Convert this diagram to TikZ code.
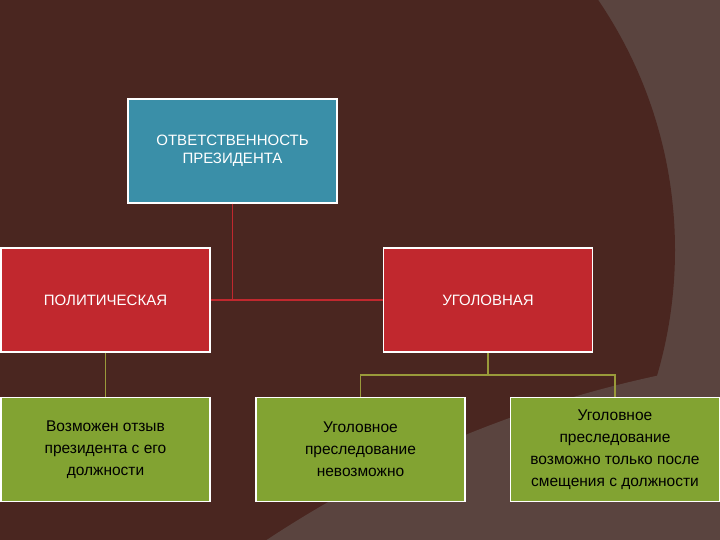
\documentclass[tikz,border=0pt]{standalone}
\usepackage{fontspec}
\setmainfont{Liberation Sans}
\definecolor{bgdark}{HTML}{4A2620}
\definecolor{bglight}{HTML}{5A443F}
\definecolor{bluebox}{HTML}{3A8FA8}
\definecolor{redbox}{HTML}{C1282E}
\definecolor{greenbox}{HTML}{82A332}
\definecolor{redline}{HTML}{C1282E}
\definecolor{oliveline}{HTML}{9A9A3A}
\begin{document}
\begin{tikzpicture}[x=1pt,y=-1pt,
  box/.style={draw=white,line width=1.5pt,minimum width=209pt,minimum height=104pt,inner sep=2pt,align=center,font=\fontsize{15}{18}\selectfont},
  boxw/.style={box,text=white},
  boxg/.style={box,fill=greenbox,text=black,font=\fontsize{15.5}{22}\selectfont}]
\useasboundingbox (0,0) rectangle (720,540);
\fill[bglight] (0,0) rectangle (720,540);
\begin{scope}
\clip (0,0) rectangle (720,540);
\fill[bgdark] (230,250) circle (445);
\fill[bglight] (900,1500) circle (1150);
\end{scope}
\node[boxw,fill=bluebox] (top) at (232.5,151) {ОТВЕТСТВЕННОСТЬ\\ПРЕЗИДЕНТА};
\node[boxw,fill=redbox] (pol) at (105.5,300) {ПОЛИТИЧЕСКАЯ};
\node[boxw,fill=redbox] (crim) at (488,300) {УГОЛОВНАЯ};
\node[boxg] (g1) at (105.5,449.5) {Возможен отзыв\\президента с его\\должности};
\node[boxg] (g2) at (360.5,449.5) {Уголовное\\преследование\\невозможно};
\node[boxg] (g3) at (615,449.5) {Уголовное\\преследование\\возможно только после\\смещения с должности};
\draw[redline,line width=1.2pt] (top.south) -- (top.south |- pol.east);
\draw[redline,line width=1.2pt] (pol.east) -- (crim.west);
\draw[oliveline,line width=1.2pt] (pol.south) -- (g1.north);
\coordinate (j) at (488,375);
\draw[oliveline,line width=1.2pt] (crim.south) -- (j);
\draw[oliveline,line width=1.2pt] (g2.north) -- (g2.north |- j) -- (g3.north |- j) -- (g3.north);
\end{tikzpicture}
\end{document}
